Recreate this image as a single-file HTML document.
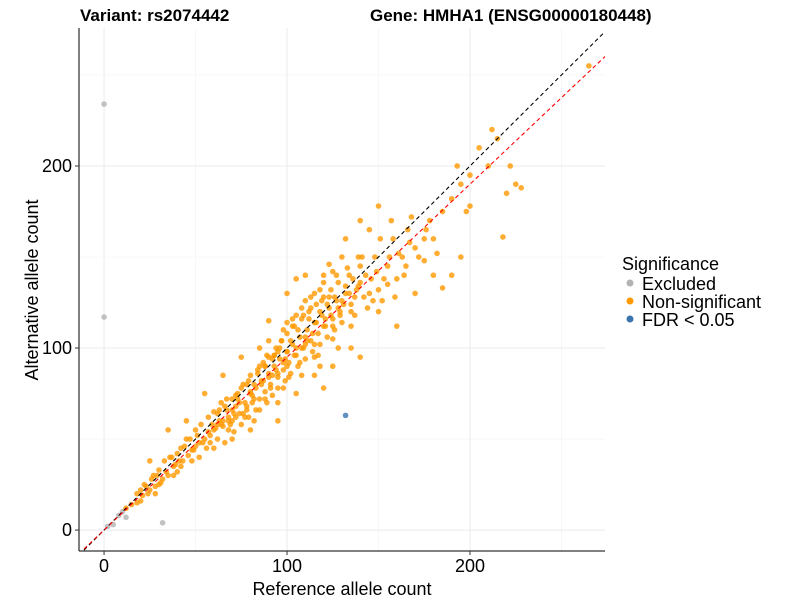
<!DOCTYPE html>
<html><head><meta charset="utf-8"><style>
body{margin:0;background:#fff;}
svg{font-family:"Liberation Sans",sans-serif;display:block;}
</style></head><body>
<svg id="chart" width="800" height="600"></svg>
<script>
const xTicks=[0,100,200];
const yTicks=[0,100,200];
const excludedX=[0,0,32,5,8,10,12,2];
const excludedY=[234,117,4,3,8,10,7,2];
const fdrX=[132];
const fdrY=[63];
const nsX=[15,18,20,22,25,27,28,30,32,33,35,36,38,40,40,42,43,45,46,48,50,50,52,53,55,56,57,58,60,60,62,63,64,65,66,67,68,70,70,71,72,73,74,75,76,77,78,79,80,80,81,82,83,84,85,85,86,87,88,89,90,90,91,92,93,94,95,95,96,97,98,99,100,100,101,102,103,104,105,106,107,108,109,110,111,112,113,114,115,116,117,118,119,120,121,122,123,124,125,126,127,128,129,130,132,134,135,137,139,140,142,144,146,148,150,152,155,158,160,163,166,170,175,178,180,185,190,193,195,198,200,205,210,212,215,218,220,222,225,228,265,105,95,120,130,140,150,85,75,65,55,45,35,25,160,170,180,185,150,145,110,100,90,60,70,80,95,105,115,125,135,140,120,132,125,115,110,100,92,82,72,62,52,42,30,20,12,200,195,190,175,165,155,145,135,128,118,108,98,88,78,68,58,48,38,28,18,
62,64,66,68,70,72,74,76,78,80,82,84,86,88,90,92,94,96,98,100,102,104,106,108,110,112,114,116,118,120,122,124,126,128,130,132,134,136,138,140,
61,63,65,67,69,71,73,75,77,79,81,83,85,87,89,91,93,95,97,99,101,103,105,107,109,111,113,115,117,119,121,123,125,127,129,131,133,135,137,139,
21,23,24,26,29,31,34,37,39,41,44,47,49,51,54,57,59,
141,143,147,149,151,153,156,157,159,161,164,167,168,172,176,182,
90,95,100,105,110,115,120,125,88,93,98,103,108,113,118,123];
const nsY=[14,20,16,25,22,30,24,33,28,38,30,40,35,42,32,45,38,50,41,44,55,46,48,58,50,45,62,52,65,55,50,60,70,57,48,66,62,72,60,54,68,75,64,58,80,70,66,62,75,85,70,60,78,88,72,66,82,92,76,70,86,95,80,74,90,100,84,78,94,104,88,82,98,108,92,86,102,112,96,90,106,116,100,94,110,120,104,98,114,124,108,102,118,128,112,106,122,132,116,110,126,136,120,114,130,140,124,118,134,145,128,122,138,150,132,126,145,160,138,150,165,155,148,170,160,175,182,200,190,175,195,210,200,220,215,161,185,200,190,188,255,138,60,78,150,170,120,100,95,85,75,60,55,38,112,130,140,133,178,165,140,130,115,45,50,55,70,75,85,90,100,95,140,160,105,95,102,90,85,80,62,58,40,35,25,22,12,178,150,140,160,145,135,130,112,100,90,85,78,72,68,55,48,38,30,20,15,
64,58,68,60,66,74,70,64,80,76,72,86,80,90,84,94,88,100,92,98,104,96,110,100,106,116,108,114,120,112,124,118,128,122,126,134,130,138,132,136,
56,66,60,72,58,64,72,78,62,82,74,66,90,82,96,78,96,86,104,94,84,112,100,92,118,104,122,102,96,126,116,128,112,140,118,124,144,120,128,150,
19,24,20,28,30,26,32,40,36,38,46,50,44,52,48,54,58,
150,140,126,142,160,138,150,170,128,152,140,158,172,150,165,152,
104,98,114,118,126,130,136,142,90,96,110,116,122,128,132,146];

const NS="http://www.w3.org/2000/svg";
const svg=document.getElementById('chart');
const L=79,R=605,T=28,B=551;
const xMin=-13.7,xMax=273.8,yMin=-11.5,yMax=275.8;
const sx=v=>L+(v-xMin)/(xMax-xMin)*(R-L);
const sy=v=>B-(v-yMin)/(yMax-yMin)*(B-T);
function mk(tag,attrs,parent){const e=document.createElementNS(NS,tag);for(const k in attrs)e.setAttribute(k,attrs[k]);(parent||svg).appendChild(e);return e;}

const grid=mk('g',{});


[50,150,250].forEach(v=>{mk('line',{x1:sx(v),x2:sx(v),y1:T,y2:B,stroke:'#f2f2f2','stroke-width':0.6},grid);mk('line',{x1:L,x2:R,y1:sy(v),y2:sy(v),stroke:'#f2f2f2','stroke-width':0.6},grid);});
xTicks.forEach(v=>mk('line',{x1:sx(v),x2:sx(v),y1:T,y2:B,stroke:'#ebebeb','stroke-width':1},grid));
yTicks.forEach(v=>mk('line',{x1:L,x2:R,y1:sy(v),y2:sy(v),stroke:'#ebebeb','stroke-width':1},grid));

const pts=mk('g',{});


function dots(xs,ys,col,name){xs.forEach((x,i)=>{const c=mk('circle',{cx:sx(x),cy:sy(ys[i]),r:2.8,fill:col,'fill-opacity':0.8},pts);

});}
dots(excludedX,excludedY,'#b3b3b3','point-excluded');
dots(nsX,nsY,'#ff9900','point-non-significant');
dots(fdrX,fdrY,'#3a75b0','point-fdr');

const cp=mk('clipPath',{id:'cp'});mk('rect',{x:L,y:T,width:R-L,height:B-T},cp);
const idl=mk('line',{x1:sx(xMin),y1:sy(xMin),x2:sx(xMax),y2:sy(xMax),stroke:'#000','stroke-dasharray':'4,3','stroke-width':1.1,'clip-path':'url(#cp)'});


const slope=0.95;
const fit=mk('line',{x1:sx(xMin),y1:sy(xMin*slope),x2:sx(xMax),y2:sy(xMax*slope),stroke:'#ff0000','stroke-dasharray':'4,3','stroke-width':1.1,'clip-path':'url(#cp)'});



mk('line',{x1:L,x2:L,y1:T,y2:B,stroke:'#000','stroke-width':1});
mk('line',{x1:L,x2:R,y1:B,y2:B,stroke:'#000','stroke-width':1});
xTicks.forEach(v=>{mk('line',{x1:sx(v),x2:sx(v),y1:B,y2:B+4,stroke:'#333'});const t=mk('text',{x:sx(v),y:B+21,'text-anchor':'middle','font-size':18,fill:'#000'});t.textContent=v;

});
yTicks.forEach(v=>{mk('line',{x1:L-4,x2:L,y1:sy(v),y2:sy(v),stroke:'#333'});const t=mk('text',{x:L-7,y:sy(v)+6,'text-anchor':'end','font-size':18,fill:'#000'});t.textContent=v;

});
</script>
<svg width="800" height="600" style="position:absolute;left:0;top:0">
<text x="80" y="21" font-size="17" font-weight="bold" font-family="Liberation Sans,sans-serif">Variant: rs2074442</text>
<text x="370" y="21" font-size="17" font-weight="bold" font-family="Liberation Sans,sans-serif">Gene: HMHA1 (ENSG00000180448)</text>
<text x="342" y="595" font-size="18" text-anchor="middle" font-family="Liberation Sans,sans-serif">Reference allele count</text>
<text transform="translate(38,290) rotate(-90)" font-size="18" text-anchor="middle" font-family="Liberation Sans,sans-serif">Alternative allele count</text>
<g font-family="Liberation Sans,sans-serif" font-size="18">
<text x="622" y="270">Significance</text>
<circle cx="630" cy="283" r="3.5" fill="#b3b3b3"/><text x="642" y="290">Excluded</text>
<circle cx="630" cy="301" r="3.5" fill="#ff9900"/><text x="642" y="308">Non-significant</text>
<circle cx="630" cy="319" r="3.5" fill="#3a75b0"/><text x="642" y="326">FDR &lt; 0.05</text>
</g>
</svg>
</body></html>
